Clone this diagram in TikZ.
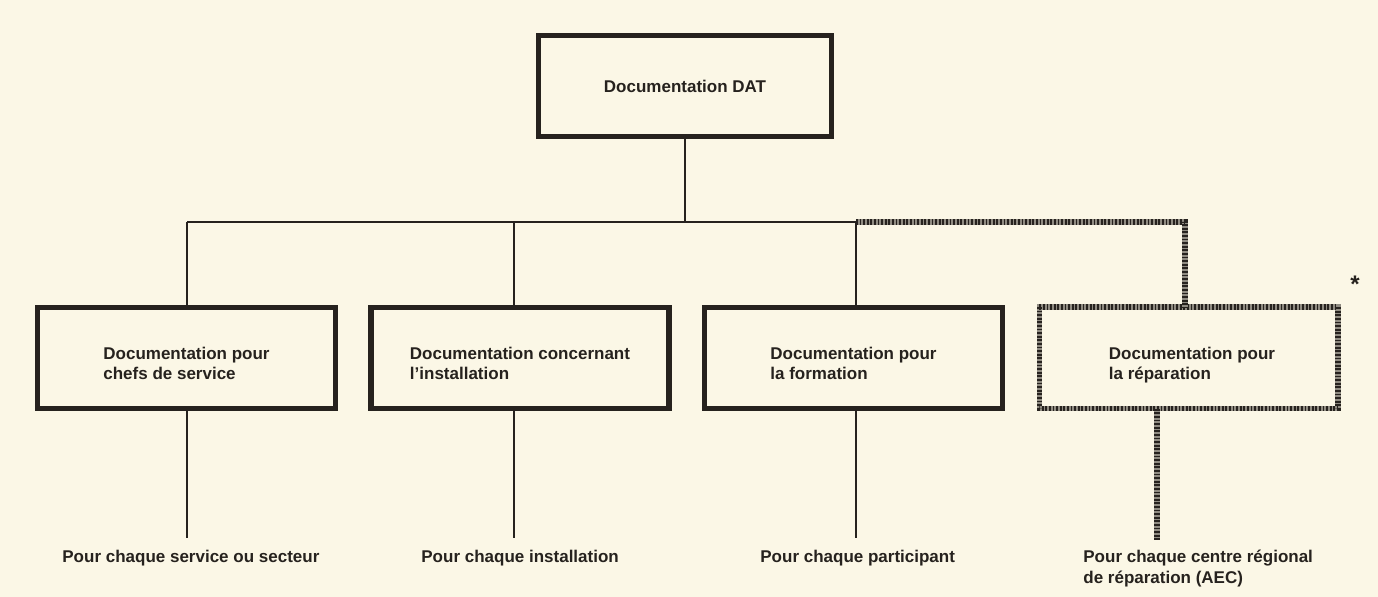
\documentclass[tikz,border=0pt]{standalone}
\usepackage{fontspec}
\setmainfont{Liberation Sans}
\definecolor{paper}{RGB}{251,247,230}
\definecolor{ink}{RGB}{38,34,30}
\begin{document}
\begin{tikzpicture}[x=0.5pt,y=-0.5pt,
  box/.style={draw=ink, line width=2.7pt, rectangle, minimum width=149pt, minimum height=50.5pt, inner sep=0pt},
  chkbox/.style={rectangle, minimum width=149pt, minimum height=50.5pt, inner sep=0pt},
  boxtext/.style={anchor=center, inner sep=0pt, align=left, font=\bfseries\fontsize{8.5}{10}\selectfont, text=ink},
  conn/.style={draw=ink, line width=1pt},
  checker/.style={draw=ink, line width=2.6pt, dash pattern=on 0.9pt off 0.9pt, preaction={draw=ink!50!paper, line width=2.6pt}},
  lab/.style={anchor=base west, inner sep=0pt, align=left, font=\bfseries\fontsize{8.5}{10.5}\selectfont, text=ink}]
\fill[paper] (0,0) rectangle (1378,597);
\useasboundingbox (0,0) rectangle (1378,597);
% boxes
\node[box, minimum width=146.5pt] (top) at (685,86) {};
\node[boxtext] (t0) at (685,86) {Documentation DAT};
\node[box] (b1) at (186.5,358) {};
\node[box] (b2) at (520,358) {};
\node[box] (b3) at (853.5,358) {};
\node[chkbox] (b4) at (1188.5,358) {};
\draw[checker] (b4.north west) rectangle (b4.south east);
\node[boxtext] (t1) at (186.5,363) {Documentation pour\\chefs de service};
\node[boxtext] (t2) at (520,363) {Documentation concernant\\l'installation};
\node[boxtext] (t3) at (853.5,363) {Documentation pour\\la formation};
\node[boxtext] (t4) at (1192,365) {Documentation pour\\la réparation};
% labels
\node[lab] (l1) at (62,563) {Pour chaque service ou secteur};
\node[lab] (l2) at (421,563) {Pour chaque installation};
\node[lab] (l3) at (760,563) {Pour chaque participant};
\node[lab] (l4) at (1083,584) {Pour chaque centre régional\\de réparation (AEC)};
\node[anchor=center, inner sep=0pt, font=\bfseries\fontsize{12}{12}\selectfont, text=ink] (star) at (1355,284) {*};
% coordinates
\coordinate (j1) at (187,222);
\coordinate (j2) at (514,222);
\coordinate (j3) at (856,222);
\coordinate (j4) at (1185,222);
\coordinate (e1) at (187,538);
\coordinate (e2) at (514,538);
\coordinate (e3) at (856,538);
\coordinate (e4) at (1157,540);
% connectors
\draw[conn] (top.south) -- (top.south |- j1);
\draw[conn] (j1) -- (j3);
\draw[conn] (j1) -- (b1.north -| j1);
\draw[conn] (j2) -- (b2.north -| j2);
\draw[conn] (j3) -- (b3.north -| j3);
\draw[checker] (j3) -- (j4) -- (b4.north -| j4);
\draw[conn] (b1.south -| e1) -- (e1);
\draw[conn] (b2.south -| e2) -- (e2);
\draw[conn] (b3.south -| e3) -- (e3);
\draw[checker] (b4.south -| e4) -- (e4);
\end{tikzpicture}
\end{document}
